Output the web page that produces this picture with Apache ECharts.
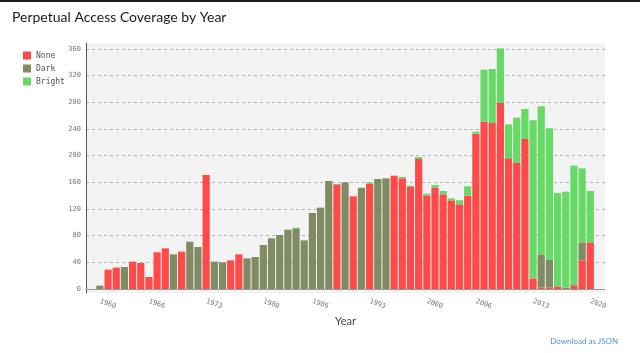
<!DOCTYPE html>
<html>
<head>
<meta charset="utf-8">
<script src="https://cdn.jsdelivr.net/npm/echarts@6/dist/echarts.min.js"></script>
<style>
  html, body { margin: 0; padding: 0; background: #fff; }
  .topbar { position: absolute; left: 0; top: 0; width: 640px; height: 2px; background: #1a1a1a; }
  #chart { width: 640px; height: 353px; }
  .download { position: absolute; right: 22px; top: 336px; font: 8px Lato, sans-serif; color: #5b8dd6; }
</style>
</head>
<body>
<div class="topbar"></div>
<div id="chart"></div>
<div class="download">Download as JSON</div>
<script>
const years = [];
for (let y = 1960; y <= 2020; y++) years.push(y);

// None / Dark / Bright counts per year, 1960..2020
const noneValues = [
  0, 29, 32, 0, 41, 39, 18, 55, 61, 0,
  56, 0, 0, 171, 0, 0, 43, 52, 0, 0,
  0, 0, 0, 0, 0, 0, 0, 0, 0, 157,
  0, 139, 0, 158, 0, 0, 170, 166, 153, 195,
  140, 152, 142, 133, 127, 140, 233, 251, 249, 279,
  196, 189, 225, 16, 2, 2, 4, 0, 5, 43,
  70
];
const darkValues = [
  5, 0, 0, 33, 0, 0, 0, 0, 0, 52,
  0, 71, 63, 0, 41, 40, 0, 0, 46, 48,
  66, 76, 81, 89, 90, 73, 114, 122, 162, 0,
  160, 0, 152, 0, 165, 166, 0, 0, 0, 0,
  0, 0, 0, 0, 0, 0, 0, 0, 0, 0,
  0, 0, 0, 0, 50, 42, 0, 2, 2, 27,
  0
];
const brightValues = [
  0, 0, 0, 0, 0, 0, 0, 0, 0, 0,
  0, 0, 0, 0, 0, 0, 0, 0, 0, 0,
  0, 0, 0, 0, 2, 0, 0, 0, 0, 0,
  0, 0, 0, 2, 0, 0, 0, 2, 2, 3,
  3, 4, 5, 3, 6, 14, 3, 78, 81, 82,
  51, 68, 45, 237, 222, 197, 140, 144, 178, 111,
  77
];
const yearTicks = [1960, 1966, 1973, 1980, 1986, 1993, 2000, 2006, 2013, 2020];
const countTicks = [0, 40, 80, 120, 160, 200, 240, 280, 320, 360];

const chart = echarts.init(document.getElementById("chart"));

// value first so the stack is done on the y dimension
const makeSeries = (name, values, color) => ({
  name: name,
  type: "bar",
  stack: "total",
  barWidth: 7.2,
  encode: { x: 1, y: 0 },
  itemStyle: { color: color },
  emphasis: { disabled: true },
  data: years.map((y, i) => [values[i], y])
});

const monoLabel = { fontFamily: "DejaVu Sans Mono", fontSize: 7, color: "#777" };

chart.setOption({
  animation: false,
  title: {
    text: "Perpetual Access Coverage by Year",
    left: 7,
    top: 5,
    textStyle: { fontFamily: "Lato", fontSize: 14, fontWeight: "normal", color: "#1a1a1a" }
  },
  legend: {
    orient: "vertical",
    left: 18,
    top: 46,
    itemWidth: 8,
    itemHeight: 8,
    itemGap: 4,
    icon: "rect",
    textStyle: { fontFamily: "DejaVu Sans Mono", fontSize: 8, color: "#555", lineHeight: 9 },
    data: ["None", "Dark", "Bright"]
  },
  grid: {
    left: 86,
    top: 43,
    width: 519,
    height: 250,
    show: true,
    backgroundColor: "#f3f3f3",
    borderWidth: 0
  },
  xAxis: {
    type: "value",
    min: 1958.3,
    max: 2021.8,
    name: "Year",
    nameLocation: "middle",
    nameGap: 23,
    nameTextStyle: { fontFamily: "Lato", fontSize: 11, color: "#444" },
    axisLine: { onZero: true, lineStyle: { color: "#999", width: 1 } },
    axisTick: { show: false, customValues: yearTicks },
    splitLine: { show: false },
    axisLabel: Object.assign({
      customValues: yearTicks,
      rotate: -20,
      margin: 8,
      formatter: v => String(v)
    }, monoLabel)
  },
  yAxis: {
    type: "value",
    min: -6,
    max: 369,
    axisLine: { show: true, onZero: false, lineStyle: { color: "#555", width: 1 } },
    axisTick: { show: false, customValues: countTicks },
    axisLabel: Object.assign({ customValues: countTicks, margin: 5 }, monoLabel),
    splitLine: { show: true, lineStyle: { color: "#b5b5b5", type: [3, 3], width: 1 } }
  },
  series: [
    makeSeries("None", noneValues, "#ff4a4a"),
    makeSeries("Dark", darkValues, "#808b64"),
    makeSeries("Bright", brightValues, "#66d966")
  ]
});
</script>
</body>
</html>
